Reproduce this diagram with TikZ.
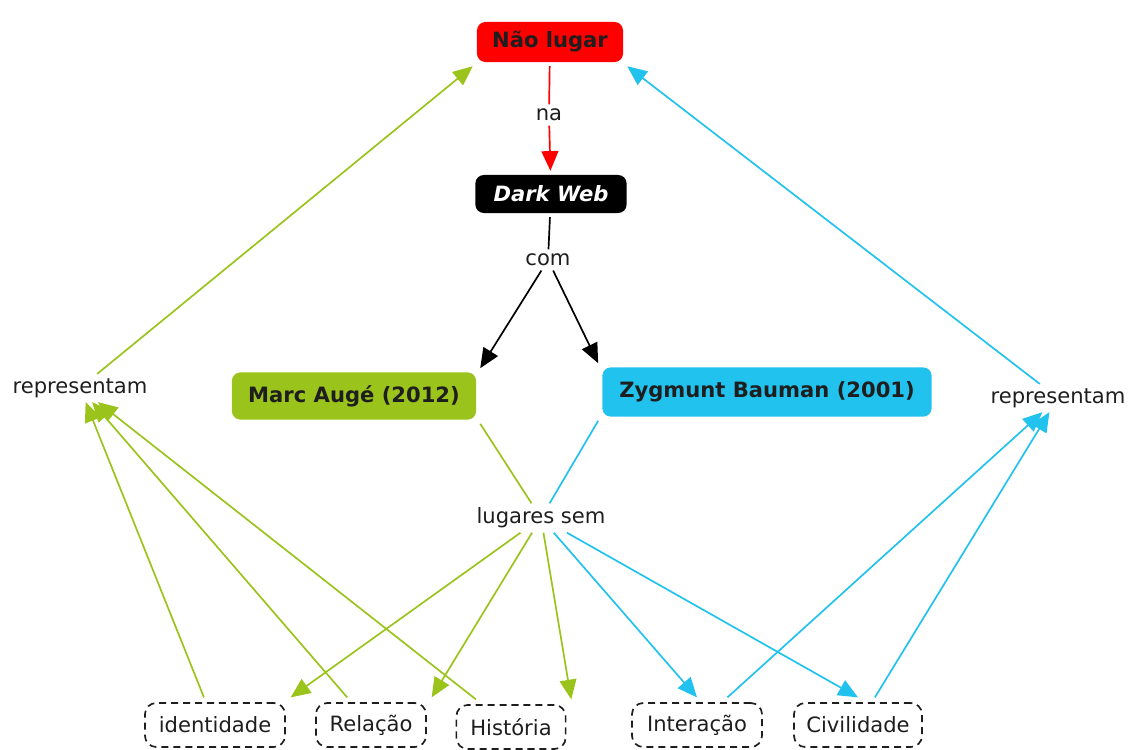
\documentclass[tikz,border=0pt]{standalone}
\usepackage{fontspec}
\setmainfont{DejaVu Sans}
\usetikzlibrary{arrows.meta}

\definecolor{vermelho}{HTML}{FF0000}
\definecolor{verde}{HTML}{9AC31C}
\definecolor{azul}{HTML}{22C2EE}
\definecolor{texto}{HTML}{1E1E1E}

\tikzset{
    conceito/.style={rounded corners=6pt, inner sep=0pt, outer sep=3pt,
        font=\fontsize{15}{18}\selectfont\bfseries},
    ligacao/.style={inner sep=3pt, text=texto},
    exemplo/.style={draw=texto, dashed, dash pattern=on 5pt off 3.5pt, line width=1.2pt,
        rounded corners=8pt, inner sep=0pt, outer sep=4pt, text=texto},
    seta/.style={line width=1.2pt, -{Triangle[length=14pt,width=12pt]}},
    linha/.style={line width=1.2pt}
}

\begin{document}
\begin{tikzpicture}[x=0.025cm, y=-0.025cm, font=\fontsize{15}{18}\selectfont]
        \useasboundingbox (0,0) rectangle (1129,749);
        % conceitos
        \node[conceito, fill=vermelho, text=texto, minimum width=3.65cm, minimum height=1.0cm] (nao) at (550,42) {Não lugar};
        \node[conceito, fill=black, text=white, minimum width=3.78cm, minimum height=0.95cm] (dw) at (551,194) {\itshape Dark Web};
        \node[conceito, fill=verde, text=texto, minimum width=6.1cm, minimum height=1.18cm] (marc) at (354,396) {Marc Augé (2012)};
        \node[conceito, fill=azul, text=texto, minimum width=8.23cm, minimum height=1.23cm] (bauman) at (767,392) {Zygmunt Bauman (2001)};
        % frases de ligacao
        \node[ligacao] (na) at (549,115) {na};
        \node[ligacao] (com) at (548,260) {com};
        \node[ligacao] (repL) at (80,388) {representam};
        \node[ligacao] (repR) at (1058,398) {representam};
        \node[ligacao] (lug) at (541,518) {lugares sem};
        % exemplos
        \node[exemplo, minimum width=3.5cm, minimum height=1.1cm] (id) at (215,725) {identidade};
        \node[exemplo, minimum width=2.75cm, minimum height=1.1cm] (rel) at (371,725) {Relação};
        \node[exemplo, minimum width=2.73cm, minimum height=1.1cm] (hist) at (511,727) {História};
        \node[exemplo, minimum width=3.25cm, minimum height=1.1cm] (inter) at (697,725) {Interação};
        \node[exemplo, minimum width=3.2cm, minimum height=1.1cm] (civ) at (858,725) {Civilidade};
        % ligacoes
        \draw[linha, vermelho] (nao) -- (na);
        \draw[seta, vermelho] (na) -- (dw);
        \draw[linha, black] (dw) -- (com);
        \draw[seta, black] (com) -- (marc.north east);
        \draw[seta, black] (com) -- (bauman.north west);
        \draw[linha, verde] (marc.south east) -- (lug);
        \draw[linha, azul] (bauman.south west) -- (lug);
        \draw[seta, verde] (lug) -- (id.north east);
        \draw[seta, verde] (lug) -- (rel.north east);
        \draw[seta, verde] (lug) -- (hist.north east);
        \draw[seta, azul] (lug) -- (inter.north);
        \draw[seta, azul] (lug) -- (civ.north);
        \draw[seta, verde] (id) -- (repL);
        \draw[seta, verde] (rel) -- (repL);
        \draw[seta, verde] (hist) -- (repL);
        \draw[seta, azul] (inter) -- (repR);
        \draw[seta, azul] (civ) -- (repR);
        \draw[seta, verde] (repL) -- (nao.south west);
        \draw[seta, azul] (repR) -- (nao.south east);
    \end{tikzpicture}
\end{document}
